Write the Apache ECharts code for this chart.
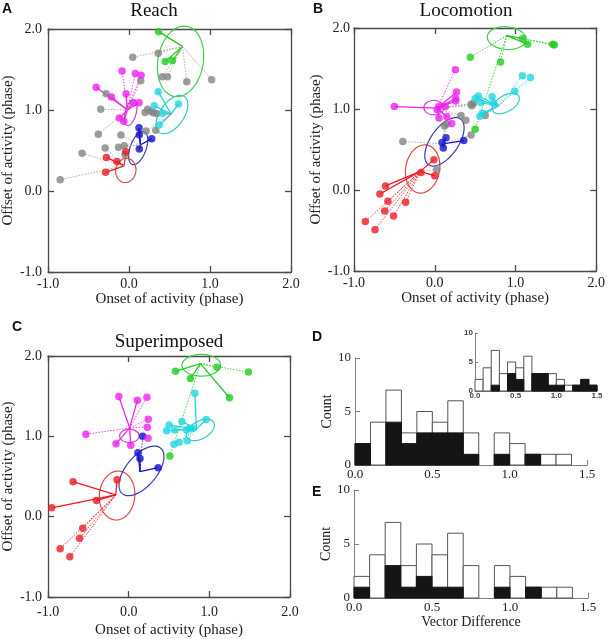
<!DOCTYPE html>
<html><head><meta charset="utf-8">
<script src="https://cdn.jsdelivr.net/npm/echarts@6/dist/echarts.min.js"></script>
<style>html,body{margin:0;padding:0;background:#fff}#c{width:608px;height:639px}</style>
</head><body><div id="c"></div>
<script>
// ---------- DATA ----------
const scatterAxisTicks = [-1, 0, 1, 2];
// points: [x, y, kind, linkedGroup, dotted]
const reachPoints = [
  [0.365,1.967,'green','green',0],[0.447,1.60,'green','green',0],[0.537,1.61,'green','green',0],
  [0.36,1.70,'gray','green',1],[0.045,1.65,'gray','green',1],[0.41,1.41,'gray','green',1],
  [0.475,1.41,'gray','green',1],[0.713,1.35,'gray','green',1],[1.02,1.375,'gray','green',1],
  [-0.086,1.48,'magenta','magenta',1],[0.078,1.45,'magenta','magenta',1],[0.148,1.43,'magenta','magenta',1],
  [-0.406,1.28,'magenta','magenta',0],[-0.218,1.16,'magenta','magenta',0],[-0.037,1.20,'magenta','magenta',0],
  [0.053,1.09,'magenta','magenta',0],[0.123,1.09,'magenta','magenta',0],[-0.12,0.90,'magenta','magenta',0],
  [-0.065,0.86,'magenta','magenta',0],
  [0.144,1.36,'gray','magenta',1],[-0.283,1.20,'gray','magenta',1],[-0.35,1.01,'gray','magenta',1],[-0.38,0.70,'gray','magenta',1],
  [0.36,1.226,'cyan','cyan',0],[0.31,1.053,'cyan','cyan',0],[0.61,1.074,'cyan','cyan',0],
  [0.414,0.958,'cyan','cyan',0],[0.373,0.815,'cyan','cyan',0],
  [0.197,0.97,'gray','cyan',1],[0.23,1.01,'gray','cyan',1],[0.27,0.98,'gray','cyan',1],
  [0.30,0.967,'gray','cyan',1],[0.34,0.958,'gray','cyan',1],[0.21,0.74,'gray','cyan',1],[0.33,0.75,'gray','cyan',1],
  [0.123,0.78,'blue','blue',0],[0.127,0.695,'blue','blue',0],[0.28,0.645,'blue','blue',0],[0.127,0.518,'blue','blue',0],
  [-0.10,0.69,'gray','blue',1],[-0.06,0.56,'gray','blue',1],[-0.13,0.54,'gray','blue',1],
  [-0.28,0.415,'red','red',0],[-0.15,0.365,'red','red',0],[-0.04,0.485,'red','red',0],[-0.29,0.23,'red','red',0],
  [-0.58,0.465,'gray','red',1],[-0.85,0.14,'gray','red',1],[-0.05,0.45,'gray','red',1],[-0.295,0.53,'gray','red',1]
];
const reachCenters = [['green',0.66,1.785],['magenta',-0.02,1.0],['cyan',0.52,0.95],['blue',0.14,0.57],['red',-0.06,0.31]];
// ellipses: [group, cx, cy, semiA, semiB, angleDeg]
const reachEllipses = [['green',0.636,1.60,0.44,0.28,80],['magenta',0.02,0.967,0.163,0.068,75],
  ['cyan',0.53,0.944,0.27,0.148,55],['blue',0.113,0.53,0.215,0.098,70],['red',-0.04,0.254,0.15,0.125,80]];

const locoPoints = [
  [-0.61,0.05,'red','red',0],[-0.68,-0.05,'red','red',0],[-0.58,-0.14,'red','red',1],[-0.62,-0.26,'red','red',1],
  [-0.51,-0.32,'red','red',1],[-0.36,-0.15,'red','red',1],[-0.86,-0.39,'red','red',1],[-0.74,-0.49,'red','red',1],
  [-0.17,0.215,'red','red',0],[-0.01,0.375,'red','red',0],[0.0,0.175,'red','red',0],[0.025,0.25,'gray','red',1],
  [0.14,0.645,'blue','blue',0],[0.09,0.585,'blue','blue',0],[0.106,0.52,'blue','blue',0],[0.36,0.61,'blue','blue',0],
  [-0.395,0.60,'gray','blue',1],[0.12,0.79,'gray','blue',1],[0.15,0.815,'gray','blue',1],[0.45,0.68,'gray','blue',1],
  [-0.50,1.03,'magenta','magenta',0],[0.255,1.485,'magenta','magenta',1],[0.27,1.21,'magenta','magenta',0],
  [0.26,1.13,'magenta','magenta',0],[0.26,1.10,'magenta','magenta',0],[0.05,1.03,'magenta','magenta',0],
  [0.13,1.03,'magenta','magenta',0],[0.03,0.99,'magenta','magenta',0],[0.053,0.89,'magenta','magenta',0],
  [0.15,0.905,'magenta','magenta',0],[0.21,0.82,'magenta','magenta',1],
  [0.45,1.06,'gray','magenta',1],[0.48,1.07,'gray','magenta',1],[0.46,1.04,'gray','magenta',1],
  [0.325,0.92,'gray','magenta',1],[0.385,0.86,'gray','magenta',1],
  [1.086,1.41,'cyan','cyan',1],[1.185,1.39,'cyan','cyan',1],[0.99,1.22,'cyan','cyan',1],
  [0.50,1.13,'cyan','cyan',0],[0.54,1.16,'cyan','cyan',0],[0.57,1.08,'cyan','cyan',0],[0.71,1.15,'cyan','cyan',0],
  [0.73,1.07,'cyan','cyan',0],[0.56,0.91,'cyan','cyan',0],[0.59,0.95,'cyan','cyan',0],[0.625,0.92,'gray','cyan',1],
  [1.09,1.87,'green','green',0],[1.15,1.80,'green','green',0],[1.46,1.80,'green','green',1],[1.48,1.79,'green','green',1],
  [0.44,1.64,'green','green',1],[0.815,1.58,'green','green',1],[0.50,0.75,'green','green',1]
];
const locoCenters = [['red',-0.18,0.23],['blue',0.10,0.57],['magenta',0.03,1.01],['cyan',0.79,1.04],['green',0.89,1.905]];
const locoEllipses = [['red',-0.15,0.26,0.30,0.21,80],['blue',0.12,0.595,0.345,0.173,55],
  ['magenta',-0.012,1.017,0.123,0.089,0],['cyan',0.88,1.068,0.185,0.10,30],['green',0.89,1.875,0.24,0.14,-5]];

const superPoints = [
  [-0.955,0.11,'red','red',0],[-0.69,0.435,'red','red',0],[-0.40,0.20,'red','red',0],[-0.145,0.46,'red','red',0],
  [-0.57,-0.145,'red','red',1],[-0.61,-0.27,'red','red',1],[-0.85,-0.40,'red','red',1],[-0.73,-0.50,'red','red',1],
  [0.173,1.0,'blue','blue',1],[0.115,0.795,'blue','blue',0],[0.14,0.725,'blue','blue',0],[0.365,0.61,'blue','blue',0],
  [-0.123,1.495,'magenta','magenta',0],[0.107,1.45,'magenta','magenta',0],[0.226,1.487,'magenta','magenta',1],
  [0.243,1.214,'magenta','magenta',1],[0.23,1.114,'magenta','magenta',1],[0.24,0.977,'magenta','magenta',1],
  [-0.53,1.027,'magenta','magenta',1],[-0.157,0.907,'magenta','magenta',0],[0.025,0.89,'magenta','magenta',0],
  [0.82,1.535,'cyan','cyan',0],[0.96,1.21,'cyan','cyan',0],[0.66,1.185,'cyan','cyan',0],[0.50,1.14,'cyan','cyan',0],
  [0.47,1.07,'cyan','cyan',0],[0.57,1.08,'cyan','cyan',0],[0.72,1.08,'cyan','cyan',0],[0.76,1.10,'cyan','cyan',0],
  [0.80,1.10,'cyan','cyan',0],[0.625,0.925,'cyan','cyan',1],[0.56,0.90,'cyan','cyan',1],[0.725,0.945,'cyan','cyan',1],
  [0.58,1.81,'green','green',0],[0.765,1.72,'green','green',0],[1.25,1.48,'green','green',0],
  [1.095,1.86,'green','green',1],[1.485,1.80,'green','green',1],[0.51,0.755,'green','green',1]
];
const superCenters = [['red',-0.16,0.27],['blue',0.14,0.56],['magenta',0.012,1.105],['cyan',0.84,1.09],['green',0.89,1.905]];
const superEllipses = [['red',-0.144,0.263,0.305,0.22,85],['blue',0.158,0.57,0.37,0.19,50],
  ['magenta',0.008,1.006,0.12,0.083,0],['cyan',0.889,1.08,0.19,0.11,30],['green',0.90,1.885,0.24,0.135,0]];

const histBinStarts = [0.0,0.1,0.2,0.3,0.4,0.5,0.6,0.7,0.8,0.9,1.0,1.1,1.2,1.3];
const histDTotal = [2,4,7,3,5,4,6,3,0,3,2,1,1,1];
const histDBlack = [2,0,4,2,3,3,3,1,0,1,0,1,0,0];
const histETotal = [2,4,7,3,5,4,6,3,0,3,2,1,1,1];
const histEBlack = [1,0,3,1,2,1,1,0,0,1,0,1,0,0];
const insetBinStarts = [0.0,0.1,0.2,0.3,0.4,0.5,0.6,0.7,0.8,0.9,1.0,1.1,1.2,1.3,1.4];
const insetTotal = [2,4,7,3,5,4,6,3,3,3,2,1,1,2,1];
const insetBlack = [0,0,1,0,3,2,0,3,3,1,1,0,1,2,1];
const histXTicks = [0, 0.5, 1.0, 1.5];
const histYTicks = [0, 5, 10];

// ---------- STYLE ----------
const SERIF = '"Liberation Serif", "Times New Roman", serif';
const SANS = '"Liberation Sans", Arial, sans-serif';
const ptColor = {red:'#ee1c24', blue:'#1212cc', magenta:'#ee22ee', cyan:'#22d6e0', green:'#1fcc1f', gray:'#858585'};
const ellColor = {red:'#dd4a48', blue:'#3a3ab8', magenta:'#cc44cc', cyan:'#2fcdc0', green:'#3ccf4a'};
const frameColor = '#4a4a4a';

const scatterPanels = [
  {pts:reachPoints, ctr:reachCenters, ell:reachEllipses, grid:{left:47,top:29,width:244,height:243}, xGap:19, xMargin:5, yGap:32, yMargin:6},
  {pts:locoPoints, ctr:locoCenters, ell:locoEllipses, grid:{left:354,top:28,width:243,height:243}, xGap:19, xMargin:5, yGap:30, yMargin:4},
  {pts:superPoints, ctr:superCenters, ell:superEllipses, grid:{left:47,top:356,width:243,height:241}, xGap:26, xMargin:8, yGap:32, yMargin:6}
];

const grids = [], xAxes = [], yAxes = [], series = [];
const fmt1 = v => v.toFixed(1);

scatterPanels.forEach((P, p) => {
  grids.push(P.grid);
  const base = {gridIndex:p, type:'value', min:scatterAxisTicks[0], max:scatterAxisTicks[scatterAxisTicks.length-1], interval:1,
    splitLine:{show:false},
    axisLine:{show:true, onZero:false, lineStyle:{color:frameColor, width:1.3}},
    axisTick:{show:true, inside:true, length:6, lineStyle:{color:frameColor, width:1.3}}};
  xAxes.push(Object.assign({}, base, {position:'bottom',
    axisLabel:{formatter:fmt1, fontFamily:SERIF, fontSize:14, color:'#222', margin:P.xMargin},
    name:'Onset of activity (phase)', nameLocation:'middle', nameGap:P.xGap,
    nameTextStyle:{fontFamily:SERIF, fontSize:15, color:'#222'}}));
  xAxes.push(Object.assign({}, base, {position:'top', axisLabel:{show:false}}));
  yAxes.push(Object.assign({}, base, {position:'left',
    axisLabel:{formatter:fmt1, fontFamily:SERIF, fontSize:14, color:'#222', margin:P.yMargin},
    name:'Offset of activity (phase)', nameLocation:'middle', nameGap:P.yGap,
    nameTextStyle:{fontFamily:SERIF, fontSize:15, color:'#222'}}));
  yAxes.push(Object.assign({}, base, {position:'right', axisLabel:{show:false}}));

  const xi = 2*p, yi = 2*p;
  const cmap = {}; P.ctr.forEach(c => cmap[c[0]] = [c[1], c[2]]);
  // ellipses
  series.push({type:'custom', xAxisIndex:xi, yAxisIndex:yi, silent:true, z:2, clip:false,
    data:P.ell.map((e,i)=>[e[1], e[2], i]),
    renderItem:(params, api) => {
      const e = P.ell[api.value(2)];
      const th = e[5]*Math.PI/180, pts = [];
      for (let k=0; k<=80; k++) {
        const t = k/80*2*Math.PI;
        const x = e[1] + e[3]*Math.cos(t)*Math.cos(th) - e[4]*Math.sin(t)*Math.sin(th);
        const y = e[2] + e[3]*Math.cos(t)*Math.sin(th) + e[4]*Math.sin(t)*Math.cos(th);
        pts.push(api.coord([x, y]));
      }
      return {type:'polyline', shape:{points:pts}, style:{stroke:ellColor[e[0]], fill:null, lineWidth:1.2}};
    }});
  // links from group centre to each point
  series.push({type:'custom', xAxisIndex:xi, yAxisIndex:yi, silent:true, z:3, clip:false,
    data:P.pts.map((q,i)=>[q[0], q[1], i]),
    renderItem:(params, api) => {
      const q = P.pts[api.value(2)];
      const c = cmap[q[3]];
      const a = api.coord(c), b = api.coord([q[0], q[1]]);
      const dotted = q[4] === 1;
      const col = q[2] === 'gray' ? '#a69aa2' : ptColor[q[3]];
      return {type:'line', shape:{x1:a[0], y1:a[1], x2:b[0], y2:b[1]},
        style:{stroke:col, lineWidth:dotted?1:1.3, lineDash:dotted?[1.5,1.5]:null, opacity:dotted?0.85:1}};
    }});
  // points (gray first)
  const ordered = P.pts.filter(q=>q[2]==='gray').concat(P.pts.filter(q=>q[2]!=='gray'));
  series.push({type:'scatter', xAxisIndex:xi, yAxisIndex:yi, z:4, symbolSize:7.5, silent:true,
    data:ordered.map(q=>({value:[q[0], q[1]], itemStyle:{color:ptColor[q[2]]}}))});
});

// ---------- histograms ----------
const histPanels = [
  {starts:histBinStarts, total:histDTotal, black:histDBlack, grid:{left:355,top:358,width:232,height:107},
   fs:13, fam:SERIF, name:'Count', gap:13, xname:'', small:false},
  {starts:insetBinStarts, total:insetTotal, black:insetBlack, grid:{left:475,top:333,width:122,height:58},
   fs:8, fam:SANS, name:'', gap:0, xname:'', small:true},
  {starts:histBinStarts, total:histETotal, black:histEBlack, grid:{left:354,top:490,width:234,height:108},
   fs:13, fam:SERIF, name:'Count', gap:16, xname:'Vector Difference', small:false}
];
histPanels.forEach((H, h) => {
  const gi = 3 + h;
  grids.push(H.grid);
  const axisCol = '#808080';
  xAxes.push({gridIndex:gi, type:'value', min:histXTicks[0], max:histXTicks[histXTicks.length-1], interval:0.5,
    splitLine:{show:false},
    axisLine:{show:true, onZero:false, lineStyle:{color:axisCol, width:1}},
    axisTick:{show:true, inside:true, length:H.small?3:5, lineStyle:{color:axisCol}},
    axisLabel:{formatter:fmt1, fontFamily:H.fam, fontSize:H.fs, color:H.small?'#444':'#222', margin:H.small?1:3, fontWeight:H.small?'bold':'normal'},
    name:H.xname, nameLocation:'middle', nameGap:17, nameTextStyle:{fontFamily:SERIF, fontSize:14, color:'#222'}});
  yAxes.push({gridIndex:gi, type:'value', min:histYTicks[0], max:histYTicks[histYTicks.length-1], interval:5,
    splitLine:{show:false},
    axisLine:{show:true, onZero:false, lineStyle:{color:axisCol, width:1}},
    axisTick:{show:true, inside:true, length:H.small?3:5, lineStyle:{color:axisCol}},
    axisLabel:{fontFamily:H.fam, fontSize:H.fs, color:H.small?'#444':'#222', margin:H.small?2:4, fontWeight:H.small?'bold':'normal'},
    name:H.name, nameLocation:'middle', nameGap:H.gap, nameTextStyle:{fontFamily:SERIF, fontSize:14, color:'#222'}});
  const mk = (vals, fill, stroke, z) => ({type:'custom', xAxisIndex:6+h, yAxisIndex:6+h, silent:true, z:z,
    data:H.starts.map((s,i)=>[s, vals[i], i]),
    renderItem:(params, api) => {
      const x0 = api.value(0), v = api.value(1);
      if (!v) return null;
      const a = api.coord([x0, v]), b = api.coord([x0 + 0.1, 0]);
      return {type:'rect', shape:{x:a[0], y:a[1], width:b[0]-a[0], height:b[1]-a[1]},
        style:{fill:fill, stroke:stroke, lineWidth:1}};
    }});
  series.push(mk(H.total, '#ffffff', '#555555', 2));
  series.push(mk(H.black, '#151515', '#151515', 3));
});

// ---------- titles & panel letters ----------
const txt = (x, y, s, font, align) => ({type:'text', x:x, y:y,
  style:{text:s, font:font, fill:'#111', textAlign:align||'left', textVerticalAlign:'middle'}});
const graphics = [
  txt(154, 11, 'Reach', '19px ' + SERIF, 'center'),
  txt(466, 11, 'Locomotion', '19px ' + SERIF, 'center'),
  txt(169, 342, 'Superimposed', '19px ' + SERIF, 'center'),
  txt(2, 9, 'A', 'bold 14px ' + SANS),
  txt(313, 9, 'B', 'bold 14px ' + SANS),
  txt(12, 327, 'C', 'bold 14px ' + SANS),
  txt(312, 337, 'D', 'bold 14px ' + SANS),
  txt(312, 492, 'E', 'bold 14px ' + SANS)
];

const chart = echarts.init(document.getElementById('c'), null, {renderer:'canvas'});
chart.setOption({
  animation:false,
  backgroundColor:'#ffffff',
  grid:grids, xAxis:xAxes, yAxis:yAxes, series:series,
  graphic:graphics
});
</script></body></html>
